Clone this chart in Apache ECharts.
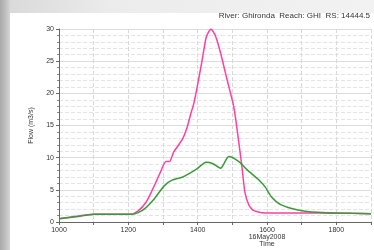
<!DOCTYPE html>
<html>
<head>
<meta charset="utf-8">
<script src="https://cdn.jsdelivr.net/npm/echarts@6/dist/echarts.min.js"></script>
<style>
  html, body { margin: 0; padding: 0; background: #fff; overflow: hidden; }
  #chart { width: 374px; height: 250px; }
</style>
</head>
<body>
<div id="chart"></div>
<script>
// time (HHMM, 16May2008) and flow (m3/s)
const timeInflow = [1000, 1050, 1100, 1150, 1210, 1230, 1250, 1265, 1289, 1308, 1319, 1331, 1355, 1369, 1379, 1389, 1398, 1412, 1424, 1432, 1439, 1450, 1465, 1484, 1503, 1512, 1527, 1536, 1548, 1560, 1585, 1650, 1750, 1850, 1900]
const flowInflow = [0.5, 0.9, 1.2, 1.2, 1.2, 1.8, 3.0, 4.5, 7.3, 9.4, 9.4, 10.9, 12.75, 14.6, 16.6, 18.45, 20.8, 24.9, 28.6, 29.6, 30.0, 29.1, 26.5, 22.3, 18.2, 15.1, 8.9, 4.7, 2.6, 1.8, 1.45, 1.4, 1.4, 1.35, 1.3]

const timeOutflow = [1000, 1050, 1100, 1150, 1210, 1230, 1250, 1270, 1290, 1305, 1326, 1357, 1400, 1424, 1443, 1466, 1490, 1519, 1543, 1575, 1594, 1613, 1641, 1689, 1746, 1842, 1900]
const flowOutflow = [0.5, 0.8, 1.2, 1.2, 1.2, 1.5, 2.2, 3.3, 4.7, 5.7, 6.5, 7.0, 8.35, 9.3, 9.1, 8.35, 10.2, 9.4, 8.1, 6.6, 5.5, 3.9, 2.65, 1.87, 1.5, 1.35, 1.3]

const titleText = 'River: Ghironda  Reach: GHI  RS: 14444.5'

const zip = (xs, ys) => xs.map((x, i) => [x, ys[i]])

const chart = echarts.init(document.getElementById('chart'))

chart.setOption({
  animation: false,
  backgroundColor: '#fff',
  graphic: [
    // top grey band
    {
      type: 'rect', z: -10, silent: true,
      shape: { x: 0, y: 0, width: 374, height: 13 },
      style: {
        fill: new echarts.graphic.LinearGradient(0, 0, 1, 0, [
          { offset: 0, color: '#d8d8d8' },
          { offset: 0.3, color: '#ececec' },
          { offset: 1, color: '#f2f2f2' }
        ])
      }
    },
    // left grey stripe
    {
      type: 'rect', z: -10, silent: true,
      shape: { x: 0, y: 0, width: 10, height: 250 },
      style: {
        fill: new echarts.graphic.LinearGradient(0, 0, 1, 0, [
          { offset: 0, color: '#a8a8a8' },
          { offset: 0.5, color: '#bdbdbd' },
          { offset: 1, color: '#d6d6d6' }
        ])
      }
    },
    {
      type: 'text', right: 4, top: 12, silent: true,
      style: { text: titleText, font: '8px "Liberation Sans", Arial, sans-serif', fill: '#333' }
    }
  ],
  grid: { left: 59, right: 0, top: 29, bottom: 28 },
  xAxis: {
    type: 'value',
    min: 1000,
    max: 1900,
    interval: 200,
    axisLine: { show: true, onZero: false, lineStyle: { color: '#666', width: 1 } },
    axisTick: { show: true, length: 3, lineStyle: { color: '#666' } },
    minorTick: { show: true, splitNumber: 2, length: 3, lineStyle: { color: '#666' } },
    splitLine: { show: true, lineStyle: { color: '#d8d8d8', type: 'dashed', width: 1 } },
    minorSplitLine: { show: true, lineStyle: { color: '#d8d8d8', type: 'dashed', width: 1 } },
    axisLabel: {
      fontSize: 7,
      lineHeight: 7,
      color: '#333',
      margin: 5,
      fontFamily: '"Liberation Sans", Arial, sans-serif',
      formatter: v => {
        if (v === 1900) return ''
        return v === 1600 ? '1600\n16May2008\nTime' : String(v)
      }
    }
  },
  yAxis: {
    type: 'value',
    min: 0,
    max: 30,
    interval: 5,
    name: 'Flow (m3/s)',
    nameLocation: 'middle',
    nameGap: 24,
    nameTextStyle: { fontSize: 7, color: '#333', fontFamily: '"Liberation Sans", Arial, sans-serif' },
    axisLine: { show: true, lineStyle: { color: '#666', width: 1 } },
    axisTick: { show: true, length: 3, lineStyle: { color: '#666' } },
    minorTick: { show: true, splitNumber: 5, length: 2, lineStyle: { color: '#888' } },
    splitLine: { show: true, lineStyle: { color: '#dcdcdc', width: 1 } },
    minorSplitLine: { show: true, lineStyle: { color: '#e4e4e4', type: 'dashed', width: 1 } },
    axisLabel: {
      fontSize: 7,
      color: '#333',
      margin: 5,
      fontFamily: '"Liberation Sans", Arial, sans-serif'
    }
  },
  series: [
    {
      name: 'Inflow',
      type: 'line',
      data: zip(timeInflow, flowInflow),
      smooth: 0.15,
      symbol: 'none',
      lineStyle: { color: '#ff3fa0', width: 1.5 },
      z: 3
    },
    {
      name: 'Outflow',
      type: 'line',
      data: zip(timeOutflow, flowOutflow),
      smooth: 0.25,
      symbol: 'none',
      lineStyle: { color: '#3a9a3a', width: 1.5 },
      z: 4
    }
  ]
})
</script>
</body>
</html>
